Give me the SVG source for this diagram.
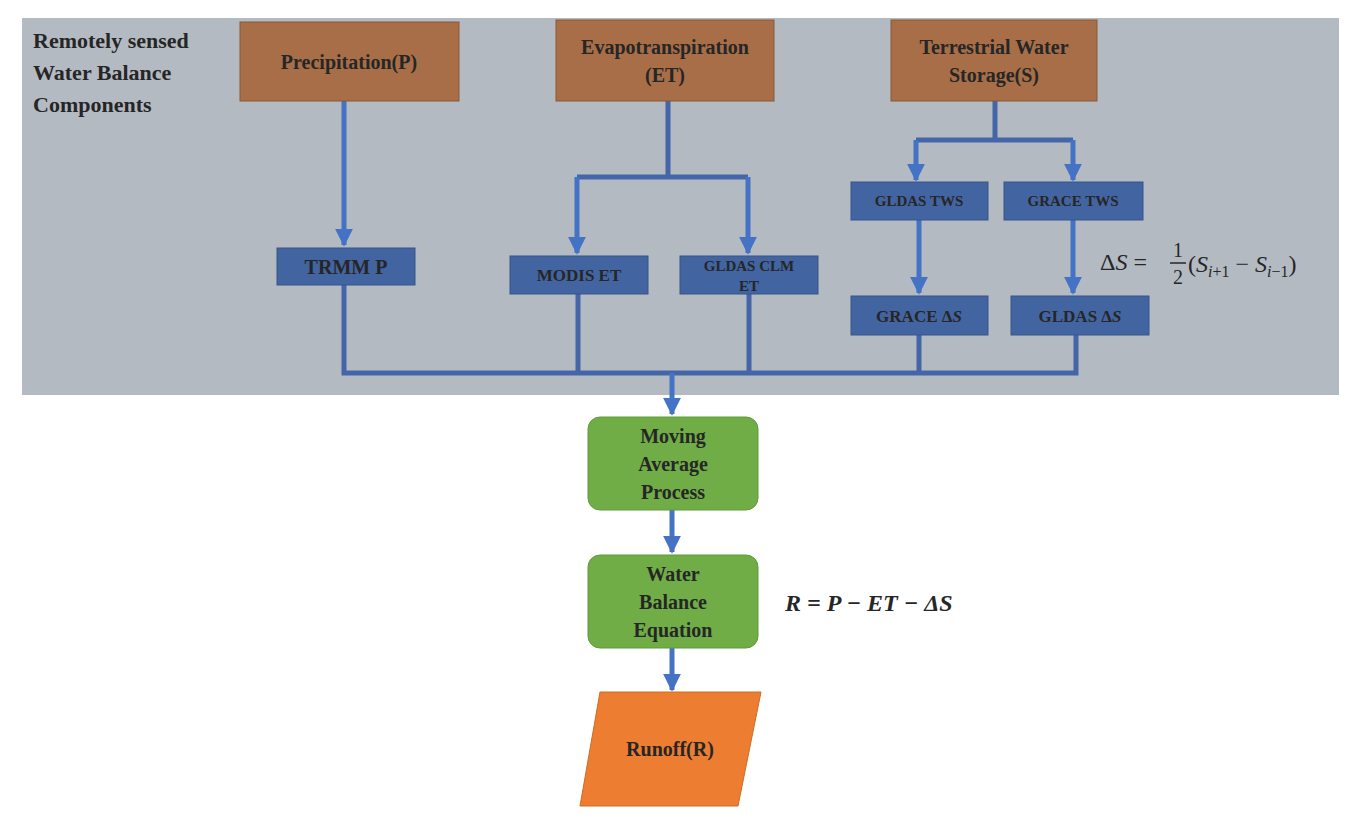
<svg xmlns="http://www.w3.org/2000/svg" width="1356" height="821" viewBox="0 0 1356 821">
<defs>
<marker id="ah" viewBox="0 0 10 10" refX="9" refY="5" markerWidth="3.6" markerHeight="3.6" orient="auto" markerUnits="strokeWidth"><path d="M0,0 L10,5 L0,10 z" fill="#4472c4"/></marker>
</defs>
<style>
text{font-family:"Liberation Serif","DejaVu Serif",serif;font-weight:bold;fill:#262626;text-anchor:middle}
.top{fill:#a86e47;stroke:#8a5836;stroke-width:1}
.blue{fill:#4264a0;stroke:#36558c;stroke-width:1}
.green{fill:#70ad47;stroke:#5f9a3a;stroke-width:1}
.ln{stroke:#4466a8;stroke-width:5;fill:none}
.ar{stroke:#4472c4;stroke-width:5;fill:none;marker-end:url(#ah)}
.t20{font-size:20px}
.t17{font-size:17px}
</style>
<rect x="22" y="18" width="1317" height="377" fill="#b4bac2"/>
<g id="title"><text x="33" y="48" style="text-anchor:start;font-size:22px" fill="#262626">Remotely sensed</text><text x="33" y="80" style="text-anchor:start;font-size:22px">Water Balance</text><text x="33" y="112" style="text-anchor:start;font-size:22px">Components</text></g>
<g id="connectors">
<path class="ar" d="M344,101 V245"/>
<path class="ln" d="M668,101 V177 M577,177 H748"/>
<path class="ar" d="M577,177 V253"/>
<path class="ar" d="M748,177 V253"/>
<path class="ln" d="M995,101 V140 M916,140 H1073"/>
<path class="ar" d="M916,140 V180"/>
<path class="ar" d="M1073,140 V180"/>
<path class="ar" d="M919,220 V293"/>
<path class="ar" d="M1073,220 V293"/>
<path class="ln" d="M344,285 V373 H1076 V335 M578,294 V373 M749,294 V373 M919,335 V373"/>
<path class="ar" d="M672,373 V414"/>
<path class="ar" d="M672,510 V552"/>
<path class="ar" d="M672,648 V690"/>
</g>
<g id="precip"><rect class="top" x="240" y="22" width="219" height="79"/><text class="t20" x="349" y="69">Precipitation(P)</text></g>
<g id="et"><rect class="top" x="556" y="20" width="218" height="81"/><text class="t20" x="665" y="54">Evapotranspiration</text><text class="t20" x="665" y="82">(ET)</text></g>
<g id="tws"><rect class="top" x="891" y="20" width="206" height="81"/><text class="t20" x="994" y="54">Terrestrial Water</text><text class="t20" x="994" y="82">Storage(S)</text></g>
<g id="trmm"><rect class="blue" x="277" y="248" width="138" height="37"/><text x="346" y="274" style="font-size:20px">TRMM P</text></g>
<g id="modis"><rect class="blue" x="510" y="256" width="138" height="38"/><text x="579" y="281" class="t17">MODIS ET</text></g>
<g id="gldasclm"><rect class="blue" x="680" y="256" width="138" height="38"/><text x="749" y="271" style="font-size:15px">GLDAS CLM</text><text x="749" y="291" style="font-size:15px">ET</text></g>
<g id="gldastws"><rect class="blue" x="851" y="182" width="137" height="38"/><text x="919" y="206" style="font-size:15px">GLDAS TWS</text></g>
<g id="gracetws"><rect class="blue" x="1004" y="182" width="139" height="38"/><text x="1073" y="206" style="font-size:15px">GRACE TWS</text></g>
<g id="graceds"><rect class="blue" x="851" y="296" width="137" height="39"/><text x="919" y="322" class="t17">GRACE Δ<tspan font-style="italic">S</tspan></text></g>
<g id="gldasds"><rect class="blue" x="1011" y="296" width="138" height="39"/><text x="1080" y="322" class="t17">GLDAS Δ<tspan font-style="italic">S</tspan></text></g>
<g id="formula1" style="font-family:'Liberation Serif',serif">
<text x="1100" y="270" style="text-anchor:start;font-weight:normal;font-size:24px">Δ<tspan font-style="italic">S</tspan> =</text>
<text x="1178" y="257" style="font-weight:normal;font-size:20px">1</text>
<line x1="1170" y1="263" x2="1186" y2="263" stroke="#262626" stroke-width="1.5"/>
<text x="1178" y="284" style="font-weight:normal;font-size:20px">2</text>
<text x="1188" y="272" style="text-anchor:start;font-weight:normal;font-size:24px">(<tspan font-style="italic">S</tspan><tspan font-size="16" dy="5" font-style="italic">i</tspan><tspan font-size="16">+1</tspan><tspan dy="-5"> − </tspan><tspan font-style="italic">S</tspan><tspan font-size="16" dy="5" font-style="italic">i</tspan><tspan font-size="16">−1</tspan><tspan dy="-5">)</tspan></text>
</g>
<g id="moving"><rect class="green" x="588" y="417" width="170" height="93" rx="12"/><text class="t20" x="673" y="443">Moving</text><text class="t20" x="673" y="471">Average</text><text class="t20" x="673" y="499">Process</text></g>
<g id="wbe"><rect class="green" x="588" y="555" width="170" height="93" rx="12"/><text class="t20" x="673" y="581">Water</text><text class="t20" x="673" y="609">Balance</text><text class="t20" x="673" y="637">Equation</text></g>
<text x="785" y="611" style="text-anchor:start;font-size:24px;font-style:italic">R = P − ET − ΔS</text>
<g id="runoff"><polygon points="600,692 761,692 738,806 580,806" fill="#ed7d31" stroke="#d06a25"/><text class="t20" x="670" y="756">Runoff(R)</text></g>
</svg>
